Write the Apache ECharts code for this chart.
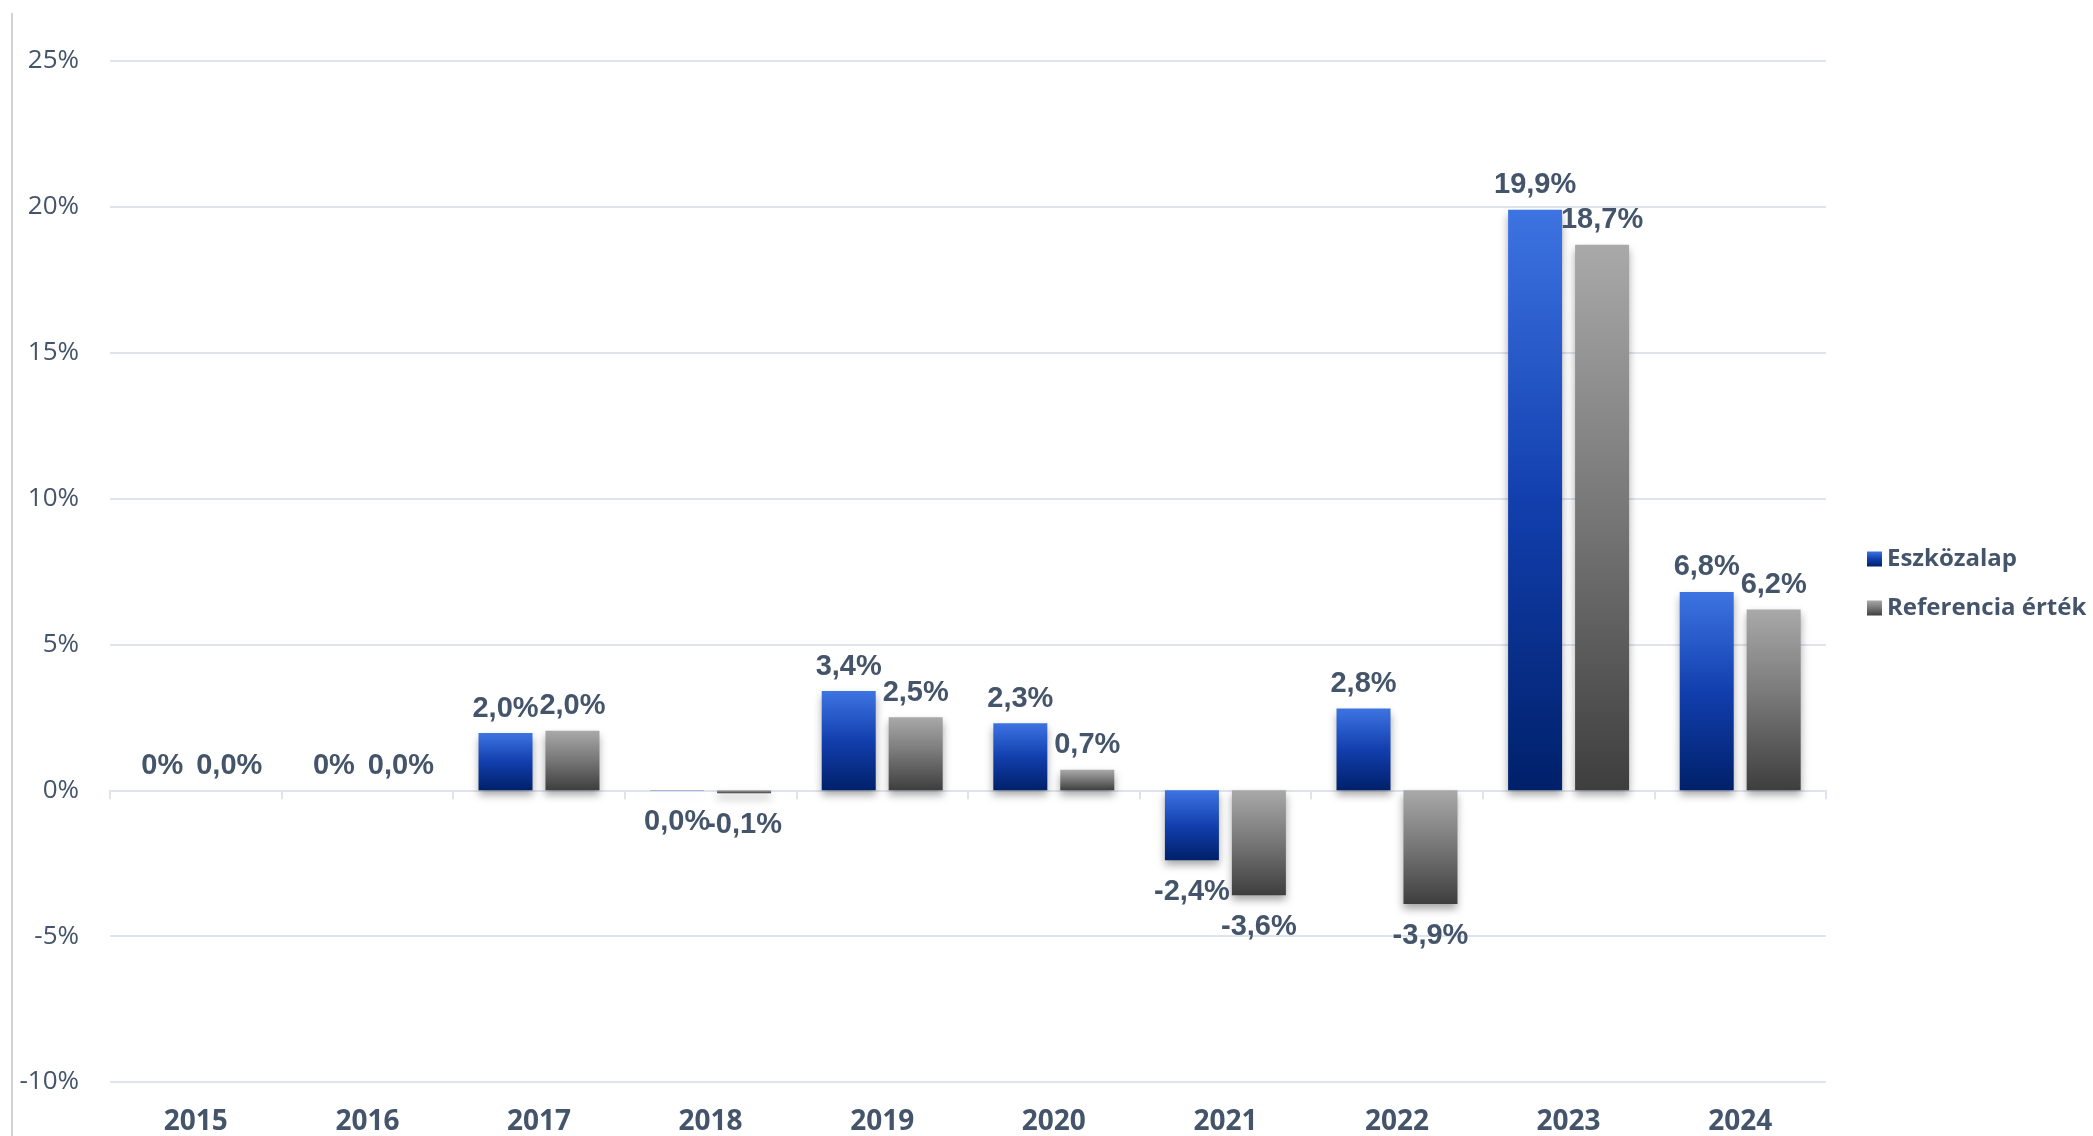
<!DOCTYPE html>
<html>
<head>
<meta charset="utf-8">
<script src="https://cdn.jsdelivr.net/npm/echarts@6/dist/echarts.min.js"></script>
<style>
  html, body { margin: 0; padding: 0; background: #fff; }
  #chart { width: 2093px; height: 1136px; }
</style>
</head>
<body>
<div id="chart"></div>
<script>
const years = ['2015', '2016', '2017', '2018', '2019', '2020', '2021', '2022', '2023', '2024'];
const fundValues = [0, 0, 1.96, -0.01, 3.4, 2.3, -2.4, 2.8, 19.9, 6.8];
const refValues = [0, 0, 2.04, -0.1, 2.5, 0.7, -3.6, -3.9, 18.7, 6.2];
const fundLabels = ['0%', '0%', '2,0%', '0,0%', '3,4%', '2,3%', '-2,4%', '2,8%', '19,9%', '6,8%'];
const refLabels = ['0,0%', '0,0%', '2,0%', '-0,1%', '2,5%', '0,7%', '-3,6%', '-3,9%', '18,7%', '6,2%'];
const yTicks = { min: -10, max: 25, interval: 5 };

const TEXT_COLOR = '#44546A';
const GRID_COLOR = '#dfe4ec';

const BLUE_FILL = new echarts.graphic.LinearGradient(0, 0, 0, 1, [
  { offset: 0, color: '#3d74e2' },
  { offset: 0.5, color: '#123fae' },
  { offset: 1, color: '#00206a' },
]);
const GREY_FILL = new echarts.graphic.LinearGradient(0, 0, 0, 1, [
  { offset: 0, color: '#a9a9a9' },
  { offset: 0.5, color: '#767676' },
  { offset: 1, color: '#3e3e3e' },
]);

const BAR_LABEL = {
  show: true,
  color: TEXT_COLOR,
  fontFamily: "'Liberation Sans Narrow', 'Arial Narrow', 'Liberation Sans', sans-serif",
  fontWeight: 'bold',
  fontSize: 29,
};

const LABEL_ABOVE = { position: 'top', distance: 10 };
const LABEL_BELOW = { position: 'bottom', distance: 17 };

const SHADOW = {
  shadowColor: 'rgba(0, 0, 0, 0.35)',
  shadowBlur: 8,
  shadowOffsetY: 5,
};

function barSeries(name, values, labels, fill) {
  return {
    name,
    type: 'bar',
    xAxisIndex: 0,
    // zero values get their label above the axis, negatives below the bar
    data: values.map((v) => ({ value: v, label: v < 0 ? LABEL_BELOW : LABEL_ABOVE })),
    barWidth: 54,
    barGap: '24%',
    itemStyle: { color: fill, ...SHADOW },
    label: { ...BAR_LABEL, formatter: (p) => labels[p.dataIndex] },
  };
}

const chart = echarts.init(document.getElementById('chart'), null, { renderer: 'canvas' });

chart.setOption({
  animation: false,
  backgroundColor: '#ffffff',
  grid: { left: 110, right: 267, top: 61, bottom: 54, containLabel: false },
  legend: {
    orient: 'vertical',
    left: 1862,
    top: 541,
    icon: 'rect',
    itemWidth: 15,
    itemHeight: 15,
    itemGap: 23,
    textStyle: {
      color: TEXT_COLOR,
      fontFamily: "'Open Sans', sans-serif",
      fontWeight: 'bold',
      fontSize: 24,
      lineHeight: 26,
      padding: [0, 0, 0, 0],
    },
    data: ['Eszközalap', 'Referencia érték'],
  },
  xAxis: [
    {
      type: 'category',
      data: years,
      position: 'bottom',
      axisLine: { onZero: true, lineStyle: { color: GRID_COLOR, width: 2 } },
      axisTick: { show: true, length: 9, lineStyle: { color: GRID_COLOR, width: 2 } },
      axisLabel: { show: false },
    },
    {
      type: 'category',
      data: years,
      position: 'bottom',
      axisLine: { show: false, onZero: false },
      axisTick: { show: false },
      axisLabel: {
        margin: 26,
        color: TEXT_COLOR,
        fontFamily: "'Open Sans', sans-serif",
        fontWeight: 'bold',
        fontSize: 28,
      },
    },
  ],
  yAxis: {
    type: 'value',
    ...yTicks,
    axisLine: { show: false },
    axisTick: { show: false },
    splitLine: { lineStyle: { color: GRID_COLOR, width: 2 } },
    axisLabel: {
      margin: 31,
      color: TEXT_COLOR,
      fontFamily: "'Open Sans', sans-serif",
      fontSize: 26,
      formatter: (v) => v + '%',
    },
  },
  graphic: [
    {
      type: 'line',
      shape: { x1: 12, y1: 13, x2: 12, y2: 1136 },
      style: { stroke: '#c4c4c4', lineWidth: 1.5 },
      silent: true,
    },
  ],
  series: [
    barSeries('Eszközalap', fundValues, fundLabels, BLUE_FILL),
    barSeries('Referencia érték', refValues, refLabels, GREY_FILL),
  ],
});
</script>
</body>
</html>
